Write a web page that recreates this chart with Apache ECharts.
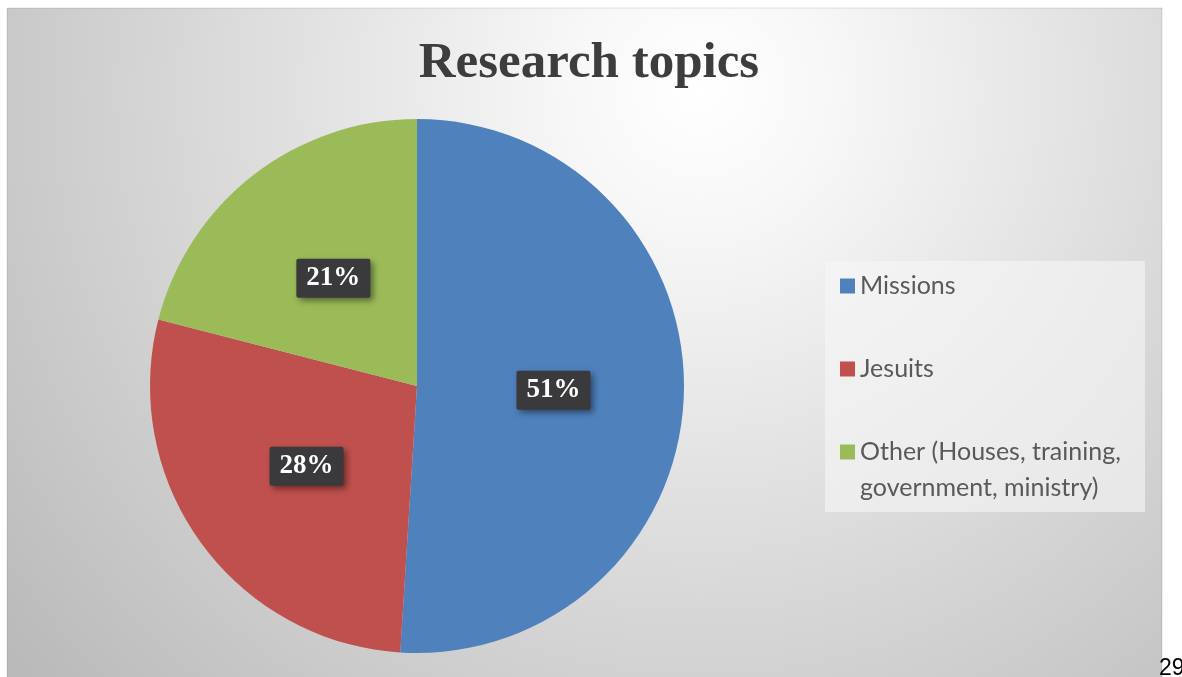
<!DOCTYPE html>
<html>
<head>
    <meta charset="utf-8">
    <title>Research topics</title>
    <script src="https://cdn.jsdelivr.net/npm/echarts@6/dist/echarts.min.js"></script>
    <style>
        html, body { margin: 0; padding: 0; background: #ffffff; }
        #main { width: 1182px; height: 677px; }
    </style>
</head>
<body>
<div id="main"></div>
<script type="text/javascript">
    // data
    var topics = ['Missions', 'Jesuits', 'Other (Houses, training, government, ministry)'];
    var shares = [51, 28, 21];
    var sliceColors = ['#4f81bd', '#c0504d', '#9bbb59'];
    var pageNumber = '29';

    var myChart = echarts.init(document.getElementById('main'));

    var pieData = [];
    for (var i = 0; i < topics.length; i++) {
        pieData.push({name: topics[i], value: shares[i], itemStyle: {color: sliceColors[i]}});
    }

    // the legend centres the square on the text block, so blank lines are added
    // to keep the square level with the first line of the wrapped "Other" item
    function legendText(name) {
        if (name === topics[0]) {
            return ' \n' + name + '\n ';
        }
        if (name === topics[2]) {
            return ' \n' + name;
        }
        return name;
    }

    var option = {
        animation: false,
        graphic: [
            {
                type: 'rect',
                z: -10,
                shape: {x: 7, y: 8, width: 1155, height: 680},
                style: {
                    fill: {
                        type: 'radial', x: 0.6, y: 0.12, r: 1.3,
                        colorStops: [
                            {offset: 0, color: '#ffffff'},
                            {offset: 0.15, color: '#f7f7f7'},
                            {offset: 0.6, color: '#d6d6d6'},
                            {offset: 1, color: '#bababa'}
                        ]
                    },
                    stroke: 'rgba(0,0,0,0.12)',
                    lineWidth: 1
                }
            },
            {
                type: 'rect',
                z: -5,
                shape: {x: 825, y: 261, width: 320, height: 251},
                style: {fill: 'rgba(246,246,246,0.6)'}
            },
            {
                type: 'text',
                left: 1159,
                top: 657,
                style: {
                    text: pageNumber,
                    fontFamily: 'Liberation Sans',
                    fontSize: 23,
                    fill: '#000000'
                }
            }
        ],
        title: {
            text: 'Research topics',
            left: 584,
            textAlign: 'center',
            top: 33,
            textStyle: {
                fontFamily: 'Liberation Serif',
                fontWeight: 'bold',
                fontSize: 51,
                color: '#3d3d3d'
            }
        },
        legend: {
            orient: 'vertical',
            left: 840,
            top: 232,
            padding: 0,
            itemGap: 11,
            itemWidth: 15,
            itemHeight: 15,
            icon: 'rect',
            selectedMode: false,
            data: topics,
            formatter: legendText,
            textStyle: {
                fontFamily: 'Lato',
                fontSize: 25,
                lineHeight: 36,
                color: '#595959',
                width: 285,
                overflow: 'break'
            }
        },
        series: [
            {
                type: 'pie',
                center: [417, 386],
                radius: [0, 267],
                startAngle: 90,
                clockwise: true,
                data: pieData,
                itemStyle: {borderWidth: 0},
                emphasis: {disabled: true},
                label: {
                    show: true,
                    position: 'inside',
                    formatter: '{c}%',
                    fontFamily: 'Liberation Serif',
                    fontWeight: 'bold',
                    fontSize: 27,
                    color: '#ffffff',
                    backgroundColor: '#3a3a3c',
                    borderRadius: 2,
                    padding: [7, 10, 5, 10],
                    shadowColor: 'rgba(0,0,0,0.45)',
                    shadowBlur: 6,
                    shadowOffsetX: 3,
                    shadowOffsetY: 3
                },
                labelLine: {show: false}
            }
        ]
    };

    myChart.setOption(option);
</script>
</body>
</html>
